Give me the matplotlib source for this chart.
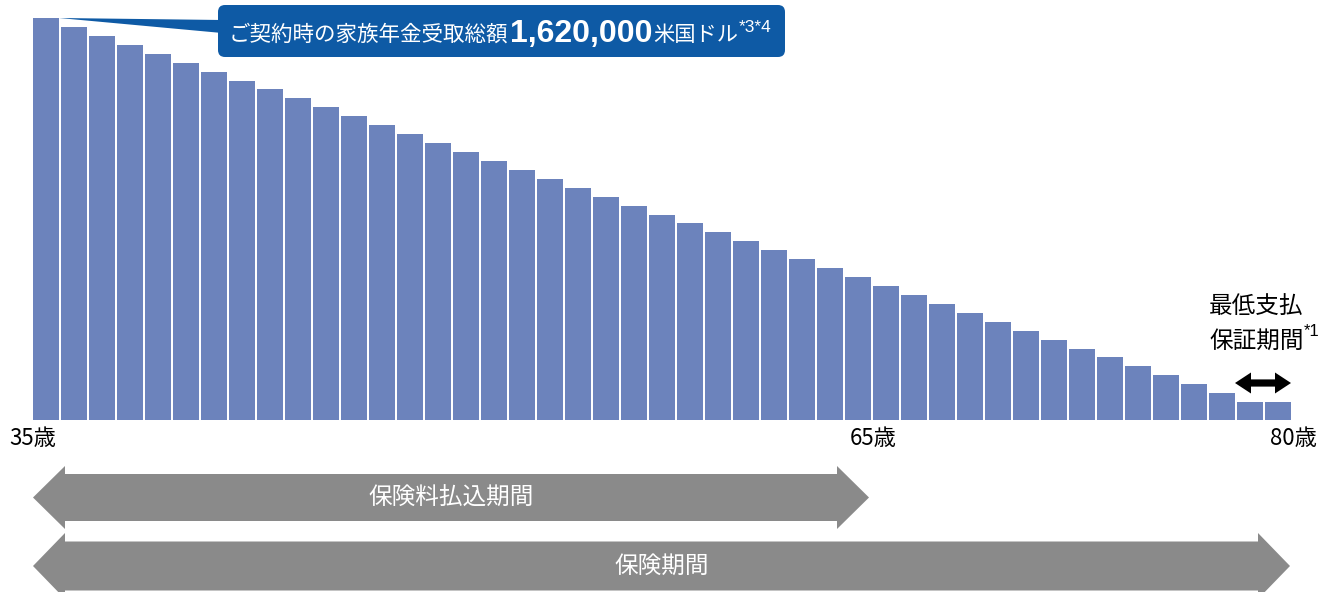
import matplotlib

matplotlib.use("Agg")
import matplotlib.pyplot as plt
from matplotlib.patches import FancyBboxPatch, Polygon

plt.rcParams["font.family"] = ["Noto Sans CJK JP", "DejaVu Sans"]

# remaining family-annuity total (thousand USD) by age at death
ages = list(range(35, 80))
remaining = [1620, 1584, 1548, 1512, 1476, 1440, 1404, 1368, 1332, 1296,
             1260, 1224, 1188, 1152, 1116, 1080, 1044, 1008, 972, 936,
             900, 864, 828, 792, 756, 720, 684, 648, 612, 576,
             540, 504, 468, 432, 396, 360, 324, 288, 252, 216,
             180, 144, 108, 72, 72]
tick_ages = [35, 65, 80]
tick_labels = ["35歳", "65歳", "80歳"]
total_label = "1,620,000"
pay_end_age = 65
guarantee_start_age = 78
cover_end_age = 80

BAR_COLOR = "#6c83bc"
BLUE = "#0e5aa5"
GRAY = "#8a8a8a"
LATIN = ["Liberation Sans", "DejaVu Sans"]

W, H = 1335, 592
BASE_PX, TOP_PX = 420, 18

fig = plt.figure(figsize=(W / 100, H / 100), dpi=100)
ax = fig.add_axes([0, (H - BASE_PX) / H, 1, BASE_PX / H])
x_left = 35 - 33 / 28
ax.set_xlim(x_left, x_left + W / 28)
ax.set_ylim(0, remaining[0] * BASE_PX / (BASE_PX - TOP_PX))
ax.bar(ages, remaining, width=26 / 28, align="edge", color=BAR_COLOR)
ax.set_xticks(tick_ages, tick_labels)
ax.tick_params(axis="x", length=0, pad=5, labelsize=16)
ax.set_yticks([])
for s in ax.spines.values():
    s.set_visible(False)
ax.patch.set_visible(False)

# overlay in image pixels (y down)
ov = fig.add_axes([0, 0, 1, 1], zorder=3)
ov.set_xlim(0, W)
ov.set_ylim(H, 0)
ov.axis("off")


def to_px(x, y=0.0):
    dx, dy = ax.transData.transform((x, y))
    return dx, H - dy


def double_arrow(x0, x1, yc, body, head, hlen, color):
    pts = [(x0, yc), (x0 + hlen, yc - head), (x0 + hlen, yc - body),
           (x1 - hlen, yc - body), (x1 - hlen, yc - head), (x1, yc),
           (x1 - hlen, yc + head), (x1 - hlen, yc + body),
           (x0 + hlen, yc + body), (x0 + hlen, yc + head)]
    ov.add_patch(Polygon(pts, closed=True, facecolor=color, edgecolor="none"))


# period arrows
x35 = to_px(35)[0]
x65 = to_px(pay_end_age)[0] - 4
x80 = to_px(cover_end_age)[0] - 3
double_arrow(x35, x65, 497.5, 23.5, 31.5, 32, GRAY)
ov.text((x35 + x65) / 2, 498, "保険料払込期間", color="white", fontsize=17,
        ha="center", va="center")
double_arrow(x35, x80, 566, 24.5, 33, 32, GRAY)
ov.text((x35 + x80) / 2, 566, "保険期間", color="white", fontsize=17,
        ha="center", va="center")

# minimum guarantee period
xg0 = to_px(guarantee_start_age)[0] - 2
double_arrow(xg0, x80 + 1, 383, 3.6, 10.5, 16, "black")
ov.text(1209, 306, "最低支払", fontsize=17, va="center")
t = ov.text(1209, 341, "保証期間", fontsize=17, va="center")
r = fig.canvas.get_renderer()
ov.text(1209 + t.get_window_extent(r).width, 336, "*1", fontsize=12,
        family=LATIN, va="baseline")

# callout
bx, by = to_px(35 + 26 / 28, remaining[0])
ov.add_patch(Polygon([(bx, by), (222, 20), (222, 33)], closed=True,
                     facecolor=BLUE, edgecolor="none"))
ov.add_patch(FancyBboxPatch((218, 5), 567, 52,
                            boxstyle="round,pad=0,rounding_size=7",
                            facecolor=BLUE, edgecolor="none"))
x = 229
for s, size, weight, fam, y, gap in [
    ("ご契約時の家族年金受取総額", 15.5, "normal", None, 41, 2),
    (total_label, 23, "bold", LATIN, 42, 0),
    ("米国ドル", 15.3, "normal", None, 41, 1),
    ("*3*4", 12.5, "normal", LATIN, 32, 0),
]:
    kw = {"family": fam} if fam else {}
    t = ov.text(x, y, s, fontsize=size, fontweight=weight, color="white",
                va="baseline", **kw)
    x += t.get_window_extent(r).width + gap

fig.savefig("out.png", dpi=100)
